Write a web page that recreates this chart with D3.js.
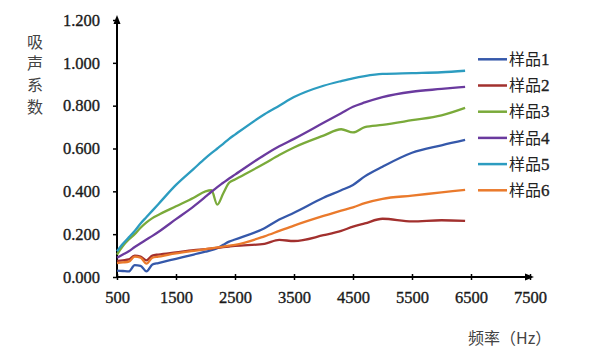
<!DOCTYPE html>
<html><head><meta charset="utf-8">
<script src="https://cdn.jsdelivr.net/npm/d3@7"></script>
<style>body{margin:0;background:#fff}svg{display:block}</style>
</head><body>
<svg id="c" width="596" height="358"></svg>
<script>
const freqs = [500,600,700,800,900,1000,1100,1200,1500,1800,2000,2100,2200,2300,2400,2500,3000,3250,3500,4000,4300,4500,4700,5000,5500,6000,6400];
const sample1 = [0.030,0.028,0.026,0.055,0.052,0.026,0.058,0.065,0.085,0.105,0.118,0.125,0.135,0.150,0.165,0.175,0.228,0.268,0.300,0.370,0.405,0.430,0.470,0.515,0.580,0.615,0.640];
const sample2 = [0.075,0.078,0.082,0.100,0.095,0.078,0.100,0.105,0.115,0.125,0.130,0.133,0.136,0.139,0.142,0.145,0.155,0.173,0.168,0.195,0.215,0.235,0.250,0.272,0.260,0.265,0.262];
const sample3 = [0.105,0.145,0.175,0.200,0.230,0.255,0.275,0.290,0.330,0.370,0.400,0.405,0.338,0.390,0.440,0.455,0.530,0.570,0.605,0.660,0.690,0.675,0.700,0.710,0.732,0.755,0.790];
const sample4 = [0.090,0.105,0.120,0.140,0.158,0.175,0.192,0.210,0.270,0.330,0.375,0.398,0.420,0.440,0.460,0.478,0.570,0.610,0.645,0.720,0.765,0.795,0.815,0.840,0.865,0.878,0.888];
const sample5 = [0.120,0.155,0.185,0.215,0.250,0.280,0.310,0.340,0.430,0.505,0.555,0.578,0.600,0.622,0.645,0.665,0.760,0.800,0.840,0.893,0.915,0.928,0.938,0.948,0.952,0.956,0.963];
const sample6 = [0.065,0.068,0.072,0.095,0.090,0.062,0.090,0.095,0.110,0.122,0.130,0.134,0.138,0.142,0.146,0.150,0.190,0.215,0.240,0.285,0.310,0.325,0.345,0.365,0.380,0.395,0.407];
const seriesNames = ["样品1","样品2","样品3","样品4","样品5","样品6"];
const colors = ["#3558aa","#a2302e","#7aaa3a","#6a3a9e","#2c9cc0","#ea7a2c"];
const xTicks = [500,1500,2500,3500,4500,5500,6500,7500];
const yTicks = [0,0.2,0.4,0.6,0.8,1.0,1.2];
const xTitle = "频率（Hz）";
const yTitle = ["吸","声","系","数"];

const allSeries = [sample1,sample2,sample3,sample4,sample5,sample6];
const svg = d3.select("#c");
const x = d3.scaleLinear([500,7500],[117,530]);
const y = d3.scaleLinear([0,1.2],[277,20]);
const serif = "'Liberation Serif','Times New Roman',serif";
const cjk = "'Noto Sans CJK SC',sans-serif";

// y axis
const ya = svg.append("g").attr("transform","translate(117,0)")
  .call(d3.axisLeft(y).tickValues(yTicks).tickSize(4).tickFormat(d3.format(".3f")));
ya.select(".domain").remove();
ya.selectAll(".tick line").attr("stroke","#000").attr("stroke-width",1.5);
ya.selectAll(".tick text").attr("x",-17).attr("font-family",serif).attr("font-size",16.5)
  .attr("fill","#1a1a1a").attr("stroke","#1a1a1a").attr("stroke-width",0.35);

// x axis
const xa = svg.append("g").attr("transform","translate(0,277)")
  .call(d3.axisBottom(x).tickValues(xTicks).tickSize(4).tickFormat(d3.format("d")));
xa.select(".domain").remove();
xa.selectAll(".tick line").attr("y1",-3).attr("y2",3).attr("stroke","#000").attr("stroke-width",1.5);
xa.selectAll(".tick text").attr("y",14).attr("font-family",serif).attr("font-size",16.5)
  .attr("fill","#1a1a1a").attr("stroke","#1a1a1a").attr("stroke-width",0.35);

// axis lines with arrows
svg.append("line").attr("x1",117).attr("y1",278).attr("x2",117).attr("y2",20).attr("stroke","#000").attr("stroke-width",2);
svg.append("path").attr("d","M117,15 L113.5,24 L120.5,24 Z").attr("fill","#000");
svg.append("line").attr("x1",116).attr("y1",277).attr("x2",529).attr("y2",277).attr("stroke","#000").attr("stroke-width",2);
svg.append("path").attr("d","M534,277 L525,273.5 L525,280.5 Z").attr("fill","#000");

// lines
const line = d3.line().x((d,i)=>x(freqs[i])).y(d=>y(d)).curve(d3.curveMonotoneX);
allSeries.forEach((s,k)=>{
  svg.append("path").datum(s).attr("d",line).attr("fill","none")
    .attr("stroke",colors[k]).attr("stroke-width",2.3).attr("stroke-linejoin","round");
});

// legend
seriesNames.forEach((n,k)=>{
  const cy = 59.3 + k*26.2;
  svg.append("line").attr("x1",478).attr("x2",507).attr("y1",cy).attr("y2",cy)
    .attr("stroke",colors[k]).attr("stroke-width",2.5);
  const t = svg.append("text").attr("x",509).attr("y",cy).attr("dy","0.35em")
    .attr("font-family",cjk).attr("font-size",16).attr("fill","#222")
    .text(n.slice(0,2));
  t.append("tspan").attr("font-family",serif).attr("font-size",17)
    .attr("stroke","#222").attr("stroke-width",0.35).text(n.slice(2));
});

// titles
yTitle.forEach((ch,i)=>{
  svg.append("text").attr("x",35).attr("y",42+i*21.7).attr("dy","0.35em").attr("text-anchor","middle")
    .attr("font-family",cjk).attr("font-size",16).attr("fill","#444").text(ch);
});
svg.append("text").attr("x",468).attr("y",338).attr("dy","0.35em")
  .attr("font-family",cjk).attr("font-size",16).attr("fill","#444").text(xTitle);
</script>
</body></html>
